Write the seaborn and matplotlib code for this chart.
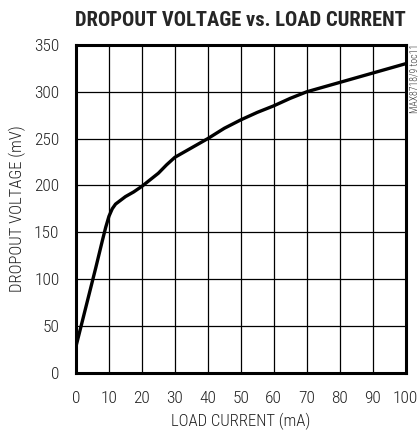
import matplotlib
matplotlib.use("Agg")
import matplotlib.pyplot as plt
import seaborn as sns
import pandas as pd

# Data
load_current = [0, 2, 4, 6, 8, 9, 10, 11, 12, 13.5, 15, 17.5, 20, 22.5, 25, 27.5, 30, 32.5, 35, 40, 45,
                50, 55, 60, 65, 70, 75, 80, 90, 100]
dropout_mv = [28, 56, 84, 112, 141, 155, 167, 175, 180, 184, 188, 193, 199, 206, 213, 222, 230, 235, 240,
              250, 261, 270, 278, 285, 293, 300, 305, 310, 320, 330]
x_ticks = list(range(0, 101, 10))
y_ticks = list(range(0, 351, 50))

df = pd.DataFrame({"current": load_current, "dropout": dropout_mv})

sns.set_style("white")
plt.rcParams['font.family'] = ['Roboto Condensed', 'DejaVu Sans']

fig = plt.figure(figsize=(4.19, 4.33), dpi=100)
ax = fig.add_axes([0.1814, 0.1397, 0.7864, 0.7563])

sns.lineplot(data=df, x="current", y="dropout", ax=ax, color="black", linewidth=2.4)

ax.set_xlim(0, 100)
ax.set_ylim(0, 350)
ax.set_xticks(x_ticks)
ax.set_yticks(y_ticks)
ax.grid(True, color="black", linewidth=0.9)
for s in ax.spines.values():
    s.set_visible(True)
    s.set_color("black")
    s.set_linewidth(2.2)
ax.tick_params(length=0, labelsize=12.5, labelcolor="#222222")
ax.tick_params(axis="x", pad=13)
ax.tick_params(axis="y", pad=12)
for lbl in ax.get_xticklabels() + ax.get_yticklabels():
    lbl.set_fontweight("light")

ax.set_xlabel("LOAD CURRENT (mA)", fontsize=12, fontweight="light", color="#222222", labelpad=5)
ax.set_ylabel("DROPOUT VOLTAGE (mV)", fontsize=12, fontweight="light", color="#222222", labelpad=6)
ax.set_title("DROPOUT VOLTAGE vs. LOAD CURRENT", fontsize=14.8, fontweight="bold", pad=14)

fig.text(0.99, 0.898, "MAX8718/9 toc11", rotation=90, ha="center", va="top",
         fontsize=7, fontweight="light", color="#333333")

fig.savefig("out.png", dpi=100)
